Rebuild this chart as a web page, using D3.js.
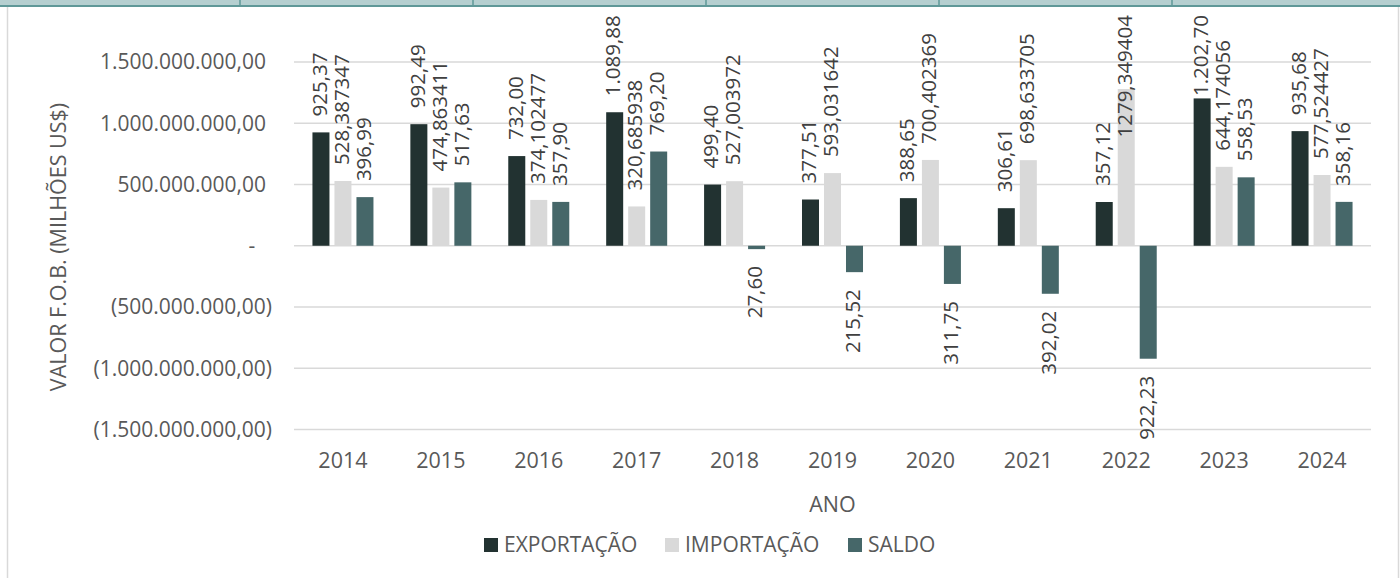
<!DOCTYPE html>
<html>
<head>
<meta charset="utf-8">
<script src="https://cdn.jsdelivr.net/npm/d3@7"></script>
<style>
  body { margin: 0; background: #fff; }
  text { font-family: "Open Sans", sans-serif; }
</style>
</head>
<body>
<div id="chart"></div>
<script>
const years = ["2014", "2015", "2016", "2017", "2018", "2019", "2020", "2021", "2022", "2023", "2024"];
const exportacao = [925.37, 992.49, 732.00, 1089.88, 499.40, 377.51, 388.65, 306.61, 357.12, 1202.70, 935.68];
const importacao = [528.387347, 474.863411, 374.102477, 320.685938, 527.003972, 593.031642, 700.402369, 698.633705, 1279.349404, 644.174056, 577.524427];
const saldo = [396.99, 517.63, 357.90, 769.20, -27.60, -215.52, -311.75, -392.02, -922.23, 558.53, 358.16];
const seriesNames = ["EXPORTAÇÃO", "IMPORTAÇÃO", "SALDO"];
const yTicks = [-1500, -1000, -500, 0, 500, 1000, 1500];

const colors = { "EXPORTAÇÃO": "#223231", "IMPORTAÇÃO": "#d9d9d9", "SALDO": "#466769" };

const width = 1400, height = 578;
const plot = { left: 294, right: 1371, top: 62, bottom: 429.5 };
const labelTop = 15;

const br = d3.formatLocale({ decimal: ",", thousands: ".", grouping: [3], currency: ["", ""] });
const fmt2 = br.format(",.2f");

const data = [];
years.forEach(function(y, i) {
    data.push({ year: y, series: "EXPORTAÇÃO", value: exportacao[i], label: fmt2(exportacao[i]) });
    data.push({ year: y, series: "IMPORTAÇÃO", value: importacao[i], label: importacao[i].toFixed(6).replace(".", ",") });
    data.push({ year: y, series: "SALDO", value: saldo[i], label: fmt2(Math.abs(saldo[i])) });
});

const svg = d3.select("#chart").append("svg")
    .attr("width", width)
    .attr("height", height);

svg.append("rect").attr("width", width).attr("height", height).attr("fill", "#fff");

// strip of the table above the chart (cut off)
svg.append("rect").attr("x", 0).attr("y", 0).attr("width", width).attr("height", 6).attr("fill", "#b5cfd0");
svg.append("line").attr("x1", 0).attr("x2", width).attr("y1", 6).attr("y2", 6)
    .attr("stroke", "#5f9898").attr("stroke-width", 2);
[240, 473, 706, 939, 1172].forEach(function(x) {
    svg.append("line").attr("x1", x).attr("x2", x).attr("y1", 0).attr("y2", 6)
        .attr("stroke", "#5f9898").attr("stroke-width", 1.5);
});

// chart frame
svg.append("line").attr("x1", 7.5).attr("x2", 7.5).attr("y1", 7).attr("y2", height)
    .attr("stroke", "#d9d9d9").attr("stroke-width", 1.5);
svg.append("line").attr("x1", 1398.5).attr("x2", 1398.5).attr("y1", 7).attr("y2", height)
    .attr("stroke", "#d9d9d9").attr("stroke-width", 1.5);

const x = d3.scaleBand().domain(years).range([plot.left, plot.right]);
const bw = x.bandwidth();
const xSub = d3.scaleBand().domain(seriesNames)
    .range([bw / 2 - 33, bw / 2 + 33])
    .paddingInner(0.227).paddingOuter(0.1135);

const y = d3.scaleLinear().domain([-1500, 1500]).range([plot.bottom, plot.top]);

// gridlines
svg.append("g").selectAll("line")
    .data(yTicks)
  .enter().append("line")
    .attr("x1", plot.left).attr("x2", plot.right)
    .attr("y1", d => y(d)).attr("y2", d => y(d))
    .attr("stroke", "#d9d9d9").attr("stroke-width", 1.5);

// y tick labels
const yLab = svg.append("g");
yTicks.forEach(function(t) {
    let txt, xPos = 266, anchor = "end";
    if (t === 0) { txt = "-"; xPos = 252; anchor = "middle"; }
    else if (t < 0) { txt = "(" + fmt2(-t * 1e6) + ")"; xPos = 272; }
    else txt = fmt2(t * 1e6);
    yLab.append("text")
        .attr("x", xPos).attr("y", y(t))
        .attr("dy", "0.35em")
        .attr("text-anchor", anchor)
        .attr("fill", "#595959")
        .style("font-size", "21px")
        .text(txt);
});

// y title
svg.append("text")
    .attr("transform", "translate(66,247) rotate(-90)")
    .attr("text-anchor", "middle")
    .attr("fill", "#595959")
    .style("font-size", "21.5px")
    .text("VALOR F.O.B. (MILHÕES US$)");

// x labels
svg.append("g").selectAll("text")
    .data(years)
  .enter().append("text")
    .attr("x", d => x(d) + bw / 2)
    .attr("y", 468)
    .attr("text-anchor", "middle")
    .attr("fill", "#595959")
    .style("font-size", "21.5px")
    .text(d => d);

svg.append("text")
    .attr("x", (plot.left + plot.right) / 2)
    .attr("y", 512)
    .attr("text-anchor", "middle")
    .attr("fill", "#595959")
    .style("font-size", "21.5px")
    .text("ANO");

// bars
svg.append("g").selectAll("rect")
    .data(data)
  .enter().append("rect")
    .attr("x", d => x(d.year) + xSub(d.series))
    .attr("width", xSub.bandwidth())
    .attr("y", d => y(Math.max(0, d.value)))
    .attr("height", d => Math.abs(y(d.value) - y(0)))
    .attr("fill", d => colors[d.series]);

// data labels (kept inside the chart area like Excel does)
svg.append("g").selectAll("text")
    .data(data)
  .enter().append("text")
    .attr("dy", "0.28em")
    .attr("text-anchor", d => d.value >= 0 ? "start" : "end")
    .attr("fill", "#404040")
    .style("font-size", "20.5px")
    .text(d => d.label)
    .attr("transform", function(d) {
        const cx = x(d.year) + xSub(d.series) + xSub.bandwidth() / 2;
        let cy;
        if (d.value >= 0) {
            const len = this.getComputedTextLength();
            cy = Math.max(y(d.value) - 16, labelTop + len);
        } else {
            cy = y(d.value) + 17;
        }
        return "translate(" + cx + "," + cy + ") rotate(-90)";
    });

// legend
const legend = svg.append("g");
const legX = [484, 665, 848];
seriesNames.forEach(function(s, i) {
    legend.append("rect")
        .attr("x", legX[i]).attr("y", 538)
        .attr("width", 14).attr("height", 14)
        .attr("fill", colors[s]);
    legend.append("text")
        .attr("x", legX[i] + 20).attr("y", 552)
        .attr("fill", "#595959")
        .style("font-size", "21px")
        .text(s);
});
</script>
</body>
</html>
